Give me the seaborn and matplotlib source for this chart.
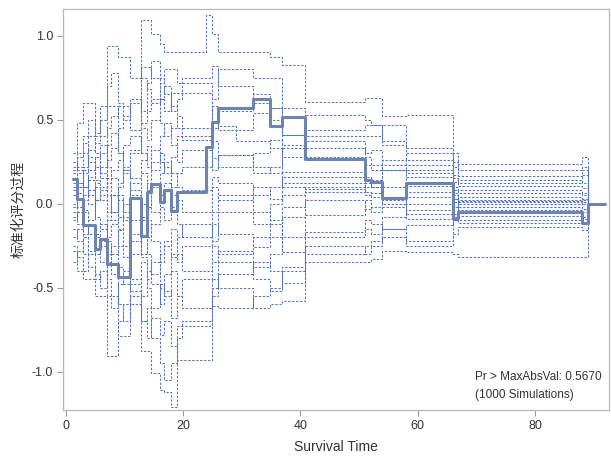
import numpy as np
import pandas as pd
import matplotlib
matplotlib.use("Agg")
import matplotlib.pyplot as plt
import seaborn as sns

# Event times at which the score processes jump (last value holds to t_end)
times = [1.2, 2.0, 2.9, 3.8, 5.0, 5.8, 7.0, 7.8, 9.0, 9.8, 11.0, 12.9, 13.9, 14.6,
         16.0, 16.8, 18.0, 19.0, 19.9, 23.9, 24.9, 26.0, 29.0, 31.9, 34.9, 36.9,
         40.8, 51.1, 52.1, 53.9, 58.0, 66.1, 66.9, 88.0, 89.0]
t_end = 92.0

# Observed standardized score process
observed = [0.146, 0.025, -0.128, -0.128, -0.271, -0.213, -0.36, -0.36, -0.436, -0.436,
            0.033, -0.193, 0.070, 0.116, 0.011, 0.080, -0.045, 0.067, 0.067, 0.338,
            0.487, 0.570, 0.570, 0.620, 0.463, 0.517, 0.265, 0.140, 0.126, 0.031,
            0.124, -0.086, -0.049, -0.114, 0.0]

# Twenty simulated realizations under the model
sim_01 = [0.30, 0.48, 0.60, 0.60, 0.36, 0.58, 0.94, 0.94, 0.87, 0.87, 0.75, 0.81, 0.81, 0.75, 0.62, 0.55, 0.66, 0.66, 0.66, 0.66, 0.49, 0.44, 0.44, 0.54, 0.57, 0.41, 0.44, 0.47, 0.47, 0.35, 0.33, 0.22, 0.164, 0.20, 0.0]
sim_02 = [0.22, 0.30, 0.36, 0.25, 0.22, 0.30, 0.45, 0.52, 0.58, 0.58, 0.44, 1.09, 1.09, 1.01, 0.95, 0.90, 0.90, 0.90, 0.90, 1.12, 1.01, 0.90, 0.90, 0.90, 0.87, 0.825, 0.606, 0.63, 0.63, 0.52, 0.53, 0.30, 0.235, 0.28, 0.0]
sim_03 = [0.18, 0.10, 0.22, 0.32, 0.40, 0.40, 0.58, 0.58, 0.30, 0.22, 0.30, 0.75, 0.68, 0.60, 0.72, 0.80, 0.80, 0.72, 0.72, 0.72, 0.62, 0.80, 0.80, 0.75, 0.745, 0.57, 0.40, 0.40, 0.40, 0.47, 0.26, 0.15, 0.124, 0.17, 0.0]
sim_04 = [0.10, 0.18, 0.10, 0.16, 0.22, 0.15, 0.26, 0.33, 0.45, 0.52, 0.60, 0.48, 0.55, 0.62, 0.48, 0.40, 0.45, 0.52, 0.45, 0.45, 0.58, 0.46, 0.37, 0.37, 0.33, 0.28, 0.33, 0.28, 0.23, 0.23, 0.20, 0.17, 0.14, 0.12, 0.0]
sim_05 = [0.05, 0.12, 0.20, 0.28, 0.14, 0.08, 0.12, 0.20, 0.26, 0.35, 0.40, 0.30, 0.22, 0.32, 0.25, 0.18, 0.28, 0.40, 0.40, 0.40, 0.27, 0.29, 0.29, 0.18, 0.22, 0.33, 0.276, 0.23, 0.20, 0.26, 0.23, 0.13, 0.104, 0.09, 0.0]
sim_06 = [0.08, -0.02, 0.05, 0.14, 0.02, 0.05, -0.10, -0.10, 0.12, 0.20, 0.15, 0.26, 0.34, 0.20, 0.30, 0.22, 0.10, 0.18, 0.22, 0.22, 0.37, 0.22, 0.22, 0.30, 0.38, 0.19, 0.19, 0.16, 0.14, 0.20, 0.16, 0.10, 0.08, 0.06, 0.0]
sim_07 = [-0.02, 0.06, -0.04, -0.10, 0.02, 0.10, 0.22, 0.15, 0.05, -0.05, 0.08, -0.08, -0.02, 0.10, 0.18, 0.25, 0.18, 0.10, 0.08, 0.08, 0.16, 0.12, 0.12, 0.05, 0.10, 0.16, 0.16, 0.12, 0.10, 0.04, 0.07, 0.08, 0.061, 0.05, 0.0]
sim_08 = [0.15, 0.10, 0.02, 0.08, -0.08, -0.15, -0.22, -0.30, -0.16, -0.08, -0.18, -0.30, -0.20, -0.12, -0.02, -0.10, 0.05, 0.02, -0.05, -0.05, 0.10, 0.02, 0.02, 0.10, 0.03, 0.12, 0.12, 0.07, 0.04, 0.10, 0.04, 0.03, 0.04, 0.02, 0.0]
sim_09 = [-0.05, -0.12, -0.20, -0.28, -0.18, -0.25, -0.10, -0.05, 0.02, -0.10, -0.22, -0.10, -0.30, -0.42, -0.30, -0.22, -0.32, -0.20, -0.12, -0.12, -0.22, -0.05, -0.05, -0.12, 0.00, 0.05, 0.10, 0.10, 0.12, 0.02, 0.00, 0.01, 0.017, 0.02, 0.0]
sim_10 = [0.00, 0.12, 0.18, 0.05, 0.10, 0.02, -0.05, 0.05, -0.15, -0.25, -0.10, -0.32, -0.45, -0.35, -0.50, -0.42, -0.30, -0.35, -0.25, -0.25, -0.12, -0.18, -0.18, -0.26, -0.20, -0.08, 0.02, -0.035, -0.02, -0.02, -0.06, -0.02, 0.012, 0.00, 0.0]
sim_11 = [-0.10, -0.05, -0.18, -0.12, -0.25, -0.35, -0.20, -0.12, -0.25, -0.32, -0.45, -0.55, -0.40, -0.48, -0.60, -0.52, -0.68, -0.55, -0.45, -0.45, -0.35, -0.28, -0.28, -0.38, -0.30, -0.20, -0.07, 0.02, -0.05, 0.04, -0.09, -0.06, -0.019, -0.03, 0.0]
sim_12 = [-0.15, -0.22, -0.30, -0.38, -0.45, -0.40, -0.55, -0.62, -0.48, -0.40, -0.52, -0.70, -0.80, -0.68, -0.78, -0.70, -0.85, -0.93, -0.93, -0.93, -0.61, -0.62, -0.62, -0.55, -0.50, -0.38, -0.17, -0.10, -0.12, -0.15, -0.13, -0.10, -0.074, -0.09, 0.0]
sim_13 = [-0.20, -0.15, -0.05, -0.18, -0.30, -0.22, -0.45, -0.55, -0.79, -0.79, -0.60, -0.88, -0.88, -1.01, -1.11, -1.12, -1.21, -0.73, -0.73, -0.73, -0.45, -0.50, -0.50, -0.62, -0.60, -0.58, -0.35, -0.35, -0.33, -0.28, -0.29, -0.30, -0.317, -0.32, 0.0]
sim_14 = [-0.28, -0.40, -0.45, -0.45, -0.55, -0.55, -0.91, -0.91, -0.70, -0.60, -0.48, -0.35, -0.50, -0.62, -0.48, -0.55, -0.40, -0.55, -0.62, -0.62, -0.55, -0.42, -0.42, -0.35, -0.40, -0.47, -0.30, -0.25, -0.22, -0.15, -0.22, -0.18, -0.142, -0.16, 0.0]
sim_15 = [-0.35, -0.28, -0.20, -0.30, -0.42, -0.50, -0.35, -0.25, -0.38, -0.48, -0.30, -0.20, -0.10, -0.22, -0.35, -0.25, -0.15, -0.30, -0.40, -0.40, -0.25, -0.30, -0.30, -0.20, -0.12, -0.29, -0.20, -0.15, -0.18, -0.08, -0.04, -0.10, -0.115, -0.12, 0.0]
sim_16 = [0.25, 0.20, 0.10, 0.00, 0.12, 0.22, 0.35, 0.42, 0.30, 0.18, 0.05, 0.18, 0.08, -0.05, 0.05, 0.12, -0.02, -0.12, -0.20, -0.20, -0.05, 0.05, 0.05, -0.05, -0.10, -0.02, 0.07, 0.05, 0.06, 0.00, 0.12, 0.06, 0.02, 0.03, 0.0]
sim_17 = [-0.08, 0.02, 0.10, 0.20, 0.28, 0.35, 0.15, 0.05, -0.08, 0.00, 0.12, 0.00, 0.12, 0.25, 0.40, 0.48, 0.35, 0.25, 0.32, 0.32, 0.45, 0.55, 0.55, 0.65, 0.57, 0.41, 0.53, 0.50, 0.47, 0.37, 0.30, 0.25, 0.20, 0.22, 0.0]
sim_18 = [0.12, 0.22, 0.30, 0.40, 0.30, 0.18, 0.05, -0.05, 0.10, 0.20, 0.32, 0.45, 0.38, 0.50, 0.62, 0.70, 0.58, 0.45, 0.38, 0.38, 0.20, 0.29, 0.29, 0.22, 0.18, 0.10, 0.085, 0.14, 0.10, 0.20, 0.105, 0.03, -0.005, 0.01, 0.0]
sim_19 = [-0.25, -0.32, -0.40, -0.30, -0.20, -0.12, -0.30, -0.42, -0.60, -0.70, -0.55, -0.70, -0.62, -0.80, -0.95, -1.05, -0.95, -0.80, -0.70, -0.70, -0.50, -0.35, -0.35, -0.45, -0.52, -0.40, -0.25, -0.30, -0.25, -0.20, -0.25, -0.10, -0.04, -0.05, 0.0]
sim_20 = [0.20, 0.28, 0.40, 0.50, 0.42, 0.50, 0.70, 0.78, 0.60, 0.50, 0.62, 0.55, 0.72, 0.85, 0.75, 0.65, 0.55, 0.62, 0.75, 0.75, 0.82, 0.70, 0.70, 0.60, 0.50, 0.35, 0.37, 0.30, 0.32, 0.20, 0.18, 0.05, -0.095, -0.08, 0.0]

simulated = [sim_01, sim_02, sim_03, sim_04, sim_05, sim_06, sim_07, sim_08, sim_09, sim_10,
             sim_11, sim_12, sim_13, sim_14, sim_15, sim_16, sim_17, sim_18, sim_19, sim_20]

x_ticks = [0, 20, 40, 60, 80]
y_ticks = [-1.0, -0.5, 0.0, 0.5, 1.0]
x_label = "Survival Time"
y_label = "标准化评分过程"
p_text = "Pr > MaxAbsVal: 0.5670"
sim_text = "(1000 Simulations)"

# Long-form tables; the final value is carried to t_end so the last step is drawn
t_full = times + [t_end]
sim_df = pd.DataFrame({
    "time": np.tile(t_full, len(simulated)),
    "value": np.concatenate([v + [v[-1]] for v in simulated]),
    "path": np.repeat(np.arange(len(simulated)), len(t_full)),
})
obs_df = pd.DataFrame({"time": t_full, "value": observed + [observed[-1]]})

sns.set_theme(style="white")
plt.rcParams["font.family"] = ["Liberation Sans", "Noto Sans CJK SC", "DejaVu Sans"]

fig = plt.figure(figsize=(6.11, 4.57), dpi=100)
ax = fig.add_axes([0.1031, 0.1028, 0.8936, 0.8775])

sns.lineplot(data=sim_df, x="time", y="value", units="path", estimator=None,
             color="#5273c4", lw=0.75, linestyle=(0, (2.2, 1.6)),
             drawstyle="steps-post", ax=ax, legend=False)
sns.lineplot(data=obs_df, x="time", y="value", color="#6e84b0", lw=2.2,
             drawstyle="steps-post", ax=ax, legend=False)

ax.set_xlim(-0.45, 92.6)
ax.set_ylim(-1.229, 1.158)
ax.set_xticks(x_ticks)
ax.set_yticks(y_ticks)
ax.set_yticklabels([f"{v:.1f}" for v in y_ticks])
ax.set_xlabel(x_label, fontsize=10, color="#333333", labelpad=6)
ax.set_ylabel(y_label, fontsize=10, color="#333333", labelpad=4.5,
              family=["Noto Sans CJK SC", "DejaVu Sans"])
ax.tick_params(axis="both", which="both", direction="out", length=4, width=0.8,
               color="#9a9a9a", labelsize=9, labelcolor="#333333",
               bottom=True, left=True, pad=3)
for s in ax.spines.values():
    s.set_color("#b8b8b8")
    s.set_linewidth(0.9)

ax.text(0.7546, 0.083, p_text, transform=ax.transAxes, fontsize=8.5,
        color="#333333", ha="left", va="center")
ax.text(0.7546, 0.037, sim_text, transform=ax.transAxes, fontsize=8.5,
        color="#333333", ha="left", va="center")

fig.savefig("out.png", dpi=100)
